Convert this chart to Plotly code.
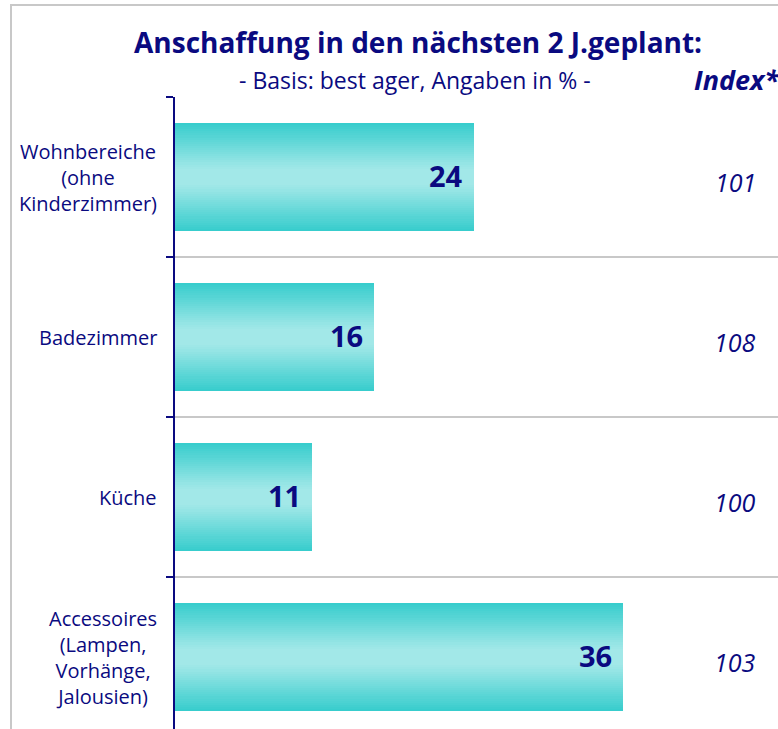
import plotly.graph_objects as go

categories = ["Wohnbereiche<br>(ohne<br>Kinderzimmer)", "Badezimmer", "Küche",
              "Accessoires<br>(Lampen,<br>Vorhänge,<br>Jalousien)"]
values = [24, 16, 11, 36]
index_values = ["101", "108", "100", "103"]

title_text = "Anschaffung in den nächsten 2 J.geplant:"
subtitle_text = "- Basis: best ager, Angaben in % -"
index_header = "Index*"

NAVY = "#0a0a80"
FONT = "Open Sans"
W, H = 778, 729
ML, MT = 175, 97

pos = list(range(len(categories)))

fig = go.Figure()

# gradient bars: overlay layers of decreasing thickness
N = 26
edge = (56, 205, 205)
center = (162, 232, 232)
bar_w = 0.675
for k in range(N):
    t = k / (N - 1)
    col = tuple(round(edge[i] + (center[i] - edge[i]) * min(1.0, t * 1.15)) for i in range(3))
    fig.add_trace(go.Bar(
        x=values, y=pos, orientation="h",
        width=bar_w * (1 - k / N),
        marker=dict(color="rgb(%d,%d,%d)" % col, line=dict(width=0)),
        hoverinfo="skip", showlegend=False,
    ))

x_max = (W - ML) / 12.45

ann = []
for i, (c, v, idx) in enumerate(zip(categories, values, index_values)):
    ann.append(dict(x=0, xref="paper", y=i, yref="y", text=c, showarrow=False,
                    xanchor="right", yanchor="middle", align="center", xshift=-16,
                    font=dict(family=FONT, size=20, color=NAVY)))
    ann.append(dict(x=v, xref="x", y=i, yref="y", text="<b>%d</b>" % v, showarrow=False,
                    xanchor="right", yanchor="middle", xshift=-9, yshift=2,
                    font=dict(family=FONT, size=29, color=NAVY)))
    ann.append(dict(x=45, xref="x", y=i, yref="y", text="<i>%s</i>" % idx, showarrow=False,
                    xanchor="center", yanchor="middle", yshift=-5,
                    font=dict(family=FONT, size=25, color=NAVY)))

# header texts
ann.append(dict(x=(418 - ML) / (W - ML), xref="paper", y=1, yref="paper", yshift=MT - 42,
                text="<b>%s</b>" % title_text, showarrow=False, xanchor="center", yanchor="middle",
                font=dict(family=FONT, size=28, color=NAVY)))
ann.append(dict(x=(415 - ML) / (W - ML), xref="paper", y=1, yref="paper", yshift=MT - 80,
                text=subtitle_text, showarrow=False, xanchor="center", yanchor="middle",
                font=dict(family=FONT, size=23, color=NAVY)))
ann.append(dict(x=1, xref="paper", y=1, yref="paper", yshift=MT - 79, xshift=4,
                text="<b><i>%s</i></b>" % index_header, showarrow=False, xanchor="right", yanchor="middle",
                font=dict(family=FONT, size=27, color=NAVY)))

fig.update_layout(
    width=W, height=H,
    margin=dict(l=ML, r=0, t=MT, b=0, pad=0),
    barmode="overlay", bargap=0,
    plot_bgcolor="white", paper_bgcolor="white",
    annotations=ann,
    xaxis=dict(range=[0, x_max], visible=False, showgrid=False, zeroline=False),
    yaxis=dict(range=[-0.5 + (H - MT) / 160.0, -0.5], tickvals=[-0.5, 0.5, 1.5, 2.5],
               showticklabels=False, ticks="outside", ticklen=7, tickwidth=2, tickcolor=NAVY,
               showgrid=True, gridcolor="#c8c8c8", gridwidth=2,
               showline=True, linecolor=NAVY, linewidth=2, zeroline=False),
    shapes=[
        dict(type="line", xref="paper", yref="paper",
             x0=(10 - ML) / (W - ML), x1=1.0, y0=1 + (MT - 5) / (H - MT), y1=1 + (MT - 5) / (H - MT),
             line=dict(color="#c8c8c8", width=2)),
        dict(type="line", xref="paper", yref="paper",
             x0=(11 - ML) / (W - ML), x1=(11 - ML) / (W - ML), y0=0, y1=1 + (MT - 5) / (H - MT),
             line=dict(color="#c8c8c8", width=2)),
    ],
)

fig.write_html("out.html", config={"displayModeBar": False},
               post_script="document.body.style.margin='0';document.body.style.overflow='hidden';")
